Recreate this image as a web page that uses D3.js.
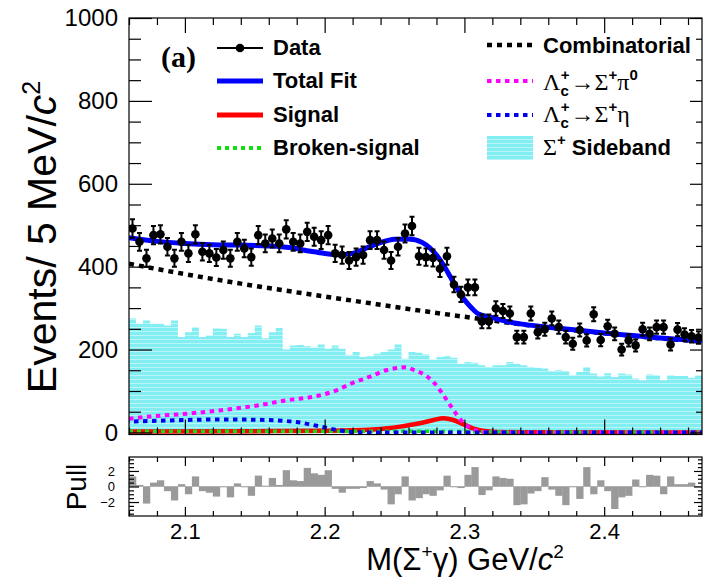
<!DOCTYPE html>
<html><head><meta charset="utf-8">
<script src="https://cdn.jsdelivr.net/npm/d3@7"></script>
<style>body{margin:0;background:#fff}svg{display:block}</style>
</head><body>
<svg id="c" width="706" height="578"></svg>
<script>
// ---------------- data ----------------
const massMin = 2.06, massMax = 2.47, binWidth = 0.005;
const dataCounts = [492,460,420,476,478,448,420,460,432,478,436,432,422,440,420,460,444,423,476,456,
  468,456,490,460,456,484,472,464,476,432,428,415,423,428,464,464,440,415,448,480,
  498,425,423,421,395,425,357,333,350,350,268,268,299,293,287,230,230,287,242,249,
  275,254,230,214,247,222,285,223,256,238,200,222,210,249,238,254,254,212,248,236,
  232,229];
const sidebandCounts = [275,262,270,262,262,258,270,230,242,254,230,234,251,250,230,238,230,240,258,227,
  242,252,200,210,211,208,205,212,202,210,202,186,194,182,184,190,194,200,212,178,
  194,192,188,176,182,184,180,166,170,168,162,158,162,162,170,166,162,158,156,154,
  148,150,148,138,146,158,142,135,143,134,142,140,130,126,140,138,126,138,136,136,
  132,138];
const pullValues = [1.3,0.2,-2.2,0.5,0.8,-0.6,-1.8,0.3,-1.0,1.3,-0.6,-0.8,-1.3,-0.1,-1.4,0.4,-0.1,-1.2,1.4,0.1,
  1.1,0.2,2.1,0.8,0.7,2.4,1.7,1.5,2.1,-0.3,-0.8,-0.3,-0.3,-0.2,0.7,0.4,-0.4,-2.3,-1.0,1.3,
  -1.8,-1.5,-1.0,-1.2,-0.5,1.4,-0.1,-0.2,1.5,2.5,-1.1,-0.5,1.3,1.1,1.0,-2.4,-2.3,-0.9,-0.6,1.2,
  -0.4,-1.2,-2.4,-0.1,-1.6,2.5,-1.0,0.8,-0.6,-2.9,-1.4,-1.2,0.9,-0.1,1.5,1.4,-1.0,1.3,0.3,0.3,
  0.5,0.0];

const totalMass = [2.06,2.08,2.10,2.12,2.14,2.16,2.175,2.19,2.20,2.21,2.22,2.23,2.24,2.25,2.26,2.27,2.275,2.28,2.285,2.29,2.295,2.30,2.305,2.31,2.32,2.33,2.34,2.36,2.38,2.40,2.42,2.44,2.47];
const totalFit  = [470,461,456,453,452,450,446,437,432,429,432,445,458,466,467,458,446,428,404,375,346,320,301,286,277,268,262,254,247,240,234,228,221];
const combMass = [2.06,2.10,2.14,2.18,2.22,2.26,2.30,2.32,2.34,2.36,2.38,2.40,2.42,2.44,2.47];
const combinatorial = [407,382,359,338,318,298,279,270,261,253,246,239,233,227,219];
const pi0Mass = [2.06,2.077,2.101,2.124,2.148,2.172,2.196,2.208,2.219,2.232,2.244,2.253,2.258,2.263,2.271,2.278,2.284,2.291,2.298,2.306,2.316,2.33,2.47];
const pi0Bkg  = [33,39,45,53,63,77,89,101,118,134,150,156,157,152,140,121,95,60,28,8,1,0,0];
const etaMass = [2.06,2.08,2.10,2.12,2.14,2.16,2.17,2.18,2.19,2.20,2.21,2.22,2.23,2.47];
const etaBkg  = [26,28,30,31,31,30,28,25,19,12,5,1,0,0];
const sigMass = [2.06,2.15,2.20,2.22,2.245,2.254,2.268,2.278,2.285,2.292,2.299,2.306,2.313,2.323,2.34,2.47];
const signal  = [2,3,4,5,10,14,22,30,34,30,20,10,4,1,0.5,0];
const brokenMass = [2.06,2.15,2.25,2.30,2.35,2.47];
const brokenSig  = [3,3,3,2,1,1];

const yMajor = [0,200,400,600,800,1000];
const xMajor = [2.1,2.2,2.3,2.4];
const pullMajor = [-2,0,2];

// ---------------- layout ----------------
const SANS = "'Liberation Sans', Arial, Helvetica, sans-serif";
const SERIF = "'Liberation Serif', 'Times New Roman', serif";
const X0=129, X1=702, Y0=18, Y1=434.5, PY0=457, PY1=516;
const svg = d3.select('#c');
const x = d3.scaleLinear().domain([massMin, massMax]).range([X0, X1]);
const y = d3.scaleLinear().domain([-5, 1000]).range([Y1, Y0]);
const yp = d3.scaleLinear().domain([-3.8, 3.8]).range([PY1, PY0]);

const defs = svg.append('defs');
const pat = defs.append('pattern').attr('id','sb').attr('width',4).attr('height',4).attr('patternUnits','userSpaceOnUse');
pat.append('rect').attr('width',4).attr('height',4).attr('fill','#82eef2');
pat.append('rect').attr('y',3).attr('width',4).attr('height',1).attr('fill','#ffffff').attr('opacity',0.45);
defs.append('clipPath').attr('id','clipMain').append('rect').attr('x',X0).attr('y',Y0).attr('width',X1-X0).attr('height',Y1-Y0);
defs.append('clipPath').attr('id','clipPull').append('rect').attr('x',X0).attr('y',PY0).attr('width',X1-X0).attr('height',PY1-PY0);

const edges = d3.range(dataCounts.length+1).map(i => massMin + i*binWidth);
const centers = dataCounts.map((_,i) => massMin + (i+0.5)*binWidth);

// ---------------- main panel ----------------
const gm = svg.append('g').attr('clip-path','url(#clipMain)');
const sbPts = sidebandCounts.map((v,i)=>[edges[i],v]).concat([[edges[sidebandCounts.length], sidebandCounts[sidebandCounts.length-1]]]);
gm.append('path').datum(sbPts)
  .attr('d', d3.area().curve(d3.curveStepAfter).x(d=>x(d[0])).y0(y(0)).y1(d=>y(d[1])))
  .attr('fill','url(#sb)');

function curve(ms, vs, color, width, dash, offset){
  const p = gm.append('path').datum(ms.map((m,i)=>[m,vs[i]]))
    .attr('d', d3.line().curve(d3.curveMonotoneX).x(d=>x(d[0])).y(d=>y(d[1])))
    .attr('fill','none').attr('stroke',color).attr('stroke-width',width);
  if(dash){ p.attr('stroke-dasharray',dash); if(offset) p.attr('stroke-dashoffset',offset); }
  return p;
}
curve(sigMass, signal, '#ff0000', 4.5);
curve(brokenMass, brokenSig, '#10e010', 3.5, '4 4');
curve(pi0Mass, pi0Bkg, '#ff00ff', 4, '4.5 4.5');
curve(etaMass, etaBkg, '#0000ee', 4, '4.5 4.5', 4);
curve(combMass, combinatorial, '#000000', 4.5, '5 5');
curve(totalMass, totalFit, '#0000ff', 5);

// data points
const gd = gm.append('g');
dataCounts.forEach((n,i)=>{
  const cx = x(centers[i]), e = Math.sqrt(n);
  const yt = y(n+e), yb = y(n-e);
  gd.append('line').attr('x1',cx).attr('x2',cx).attr('y1',yt).attr('y2',yb).attr('stroke','#000').attr('stroke-width',2);
  gd.append('line').attr('x1',cx-2.5).attr('x2',cx+2.5).attr('y1',yt).attr('y2',yt).attr('stroke','#000').attr('stroke-width',2);
  gd.append('line').attr('x1',cx-2.5).attr('x2',cx+2.5).attr('y1',yb).attr('y2',yb).attr('stroke','#000').attr('stroke-width',2);
  gd.append('circle').attr('cx',cx).attr('cy',y(n)).attr('r',4.3).attr('fill','#000');
});

// ---------------- pull panel ----------------
const gp = svg.append('g').attr('clip-path','url(#clipPull)');
pullValues.forEach((v,i)=>{
  gp.append('rect').attr('x',x(edges[i])).attr('width',x(edges[i+1])-x(edges[i])+0.3)
    .attr('y',Math.min(yp(0),yp(v))).attr('height',Math.abs(yp(v)-yp(0)))
    .attr('fill','#9a9a9a');
});
gp.append('line').attr('x1',X0).attr('x2',X1).attr('y1',yp(0)).attr('y2',yp(0)).attr('stroke','#b0b0b0').attr('stroke-width',1);

// ---------------- frames & axes ----------------
svg.append('rect').attr('x',X0).attr('y',Y0).attr('width',X1-X0).attr('height',Y1-Y0).attr('fill','none').attr('stroke','#000').attr('stroke-width',1.2);
svg.append('rect').attr('x',X0).attr('y',PY0).attr('width',X1-X0).attr('height',PY1-PY0).attr('fill','none').attr('stroke','#000').attr('stroke-width',1.2);

function ax(gen, tx, ty, vals, len, fmt, pad, fs){
  const g = svg.append('g').attr('transform',`translate(${tx},${ty})`)
    .call(gen.tickValues(vals).tickSizeInner(len).tickSizeOuter(0).tickPadding(pad||3).tickFormat(fmt||(()=> '')));
  g.select('.domain').remove();
  g.selectAll('line').attr('stroke','#000').attr('stroke-width',1.2);
  g.selectAll('text').attr('font-family',SANS).attr('font-size',fs||20).attr('fill','#000');
  return g;
}
const yMinor = d3.range(0,1001,50).filter(v=>v%200!==0);
const xMinor = d3.range(0,21).map(i=>+(2.06+0.02*i).toFixed(2)).filter(v=>v<=massMax && !xMajor.some(m=>Math.abs(m-v)<1e-6));
const pMinor = d3.range(-7,8).map(i=>i*0.5).filter(v=>!pullMajor.includes(v));

ax(d3.axisLeft(y), X0, 0, yMajor, -23, d3.format('d'), 11, 24);
ax(d3.axisLeft(y), X0, 0, yMinor, -12);
ax(d3.axisRight(y), X1, 0, yMajor, -12);
ax(d3.axisRight(y), X1, 0, yMinor, -6);
ax(d3.axisTop(x), 0, Y0, xMajor, -15);
ax(d3.axisTop(x), 0, Y0, xMinor, -7);
ax(d3.axisBottom(x), 0, Y1, xMajor, -15);
ax(d3.axisBottom(x), 0, Y1, xMinor, -7);

ax(d3.axisLeft(yp), X0, 0, pullMajor, -10, d=> d<0 ? '\u2212'+(-d) : String(d), 14, 13);
ax(d3.axisLeft(yp), X0, 0, pMinor, -5);
ax(d3.axisRight(yp), X1, 0, pullMajor, -8);
ax(d3.axisRight(yp), X1, 0, pMinor, -4);
ax(d3.axisTop(x), 0, PY0, xMajor, -9);
ax(d3.axisTop(x), 0, PY0, xMinor, -5);
ax(d3.axisBottom(x), 0, PY1, xMajor, -9, d3.format('.1f'), 7, 22);
ax(d3.axisBottom(x), 0, PY1, xMinor, -5);

// ---------------- rich text helper ----------------
function rich(parent, tx, ty, parts, anchor, rot){
  const t = parent.append('text').attr('x',tx).attr('y',ty).attr('text-anchor',anchor||'start').attr('fill','#000');
  if(rot) t.attr('transform',`rotate(${rot},${tx},${ty})`);
  let cur = 0;
  parts.forEach(p=>{
    const s = t.append('tspan').text(p.t).attr('font-size',p.s).attr('font-family',p.f||SANS).attr('font-weight',p.w||'normal');
    if(p.i) s.attr('font-style','italic');
    const off = p.o||0;
    if(off!==cur){ s.attr('dy', off-cur); cur = off; }
    if(p.dx) s.attr('dx', p.dx);
  });
  return t;
}

// axis titles
rich(svg, 56, 237, [{t:'Events/ 5 MeV/',s:41},{t:'c',s:41,i:1},{t:'2',s:25,o:-16}], 'middle', -90);
rich(svg, 86, 487, [{t:'Pull',s:28}], 'middle', -90);
rich(svg, 465, 570, [{t:'M(\u03a3',s:31},{t:'+',s:19,o:-12},{t:'\u03b3) GeV/',s:31,o:0},{t:'c',s:31,i:1},{t:'2',s:19,o:-12}], 'middle');

// label (a)
svg.append('text').attr('x',161).attr('y',67).attr('font-family',SERIF).attr('font-weight','bold').attr('font-size',30).text('(a)');

// ---------------- legend ----------------
const lg = svg.append('g');
function swatch(x1,x2,yy,color,w,dash){
  const l = lg.append('line').attr('x1',x1).attr('x2',x2).attr('y1',yy).attr('y2',yy).attr('stroke',color).attr('stroke-width',w);
  if(dash) l.attr('stroke-dasharray',dash);
}
const LX1=217, LX2=263, LT=273, RX1=487, RX2=533, RT=543;
swatch(LX1,LX2,48,'#000',2);
lg.append('circle').attr('cx',(LX1+LX2)/2).attr('cy',48).attr('r',4.3).attr('fill','#000');
swatch(LX1,LX2,81,'#0000ff',5);
swatch(LX1,LX2,115,'#ff0000',5);
swatch(LX1,LX2,148,'#10e010',4,'4 4');
const boldTxt = (tx,ty,s)=>lg.append('text').attr('x',tx).attr('y',ty).attr('font-family',SANS).attr('font-weight','bold').attr('font-size',22).text(s);
boldTxt(LT,55,'Data');
boldTxt(LT,88,'Total Fit');
boldTxt(LT,122,'Signal');
boldTxt(LT,155,'Broken-signal');

swatch(RX1,RX2,45,'#000',4.5,'5 5');
swatch(RX1,RX2,81,'#ff00ff',4,'4.5 4.5');
swatch(RX1,RX2,115,'#0000ee',4,'4.5 4.5');
lg.append('rect').attr('x',RX1).attr('y',136).attr('width',RX2-RX1).attr('height',24).attr('fill','url(#sb)');
boldTxt(RT,53,'Combinatorial');
const lam = (ty, fin, fsup)=>{
  const parts = [{t:'\u039b',s:24,f:SERIF},{t:'c',s:15,o:6,w:'bold'},{t:'+',s:15,o:-10,dx:-8,w:'bold'},
    {t:'\u2192\u03a3',s:24,f:SERIF,o:0,dx:1},{t:'+',s:15,o:-10,w:'bold'},{t:fin,s:24,f:SERIF,o:0}];
  if(fsup) parts.push({t:fsup,s:15,o:-10,w:'bold'});
  rich(lg, RT, ty, parts);
};
lam(90,'\u03c0','0');
lam(122,'\u03b7');
rich(lg, RT, 155, [{t:'\u03a3',s:24,f:SERIF},{t:'+',s:15,o:-10,w:'bold'},{t:' Sideband',s:22,w:'bold',o:0}]);
</script>
</body></html>
